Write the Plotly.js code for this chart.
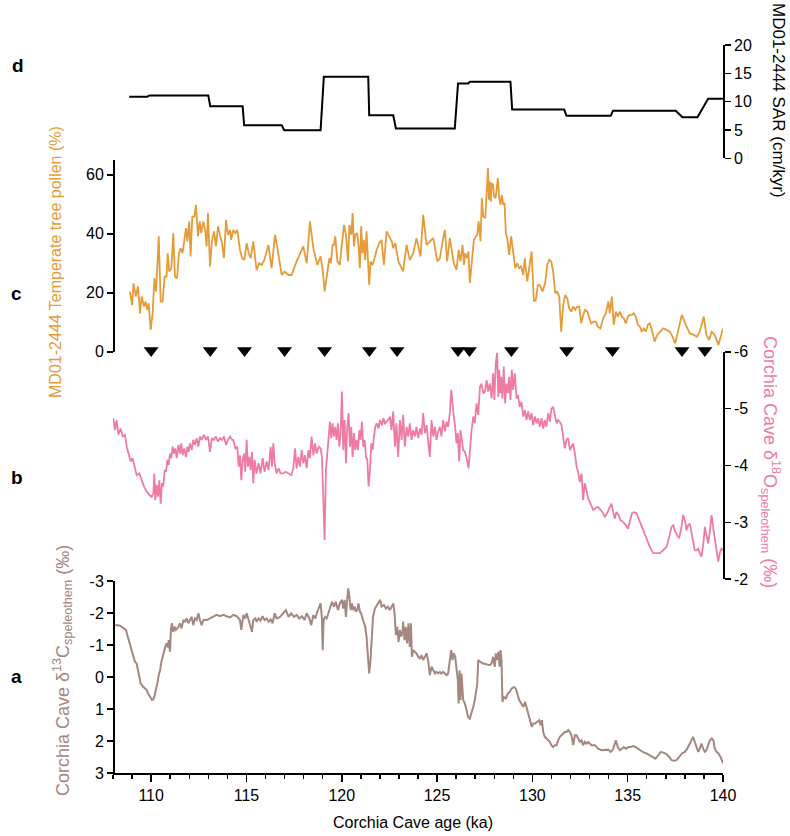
<!DOCTYPE html>
<html>
<head>
<meta charset="utf-8">
<script src="https://cdn.plot.ly/plotly-3.0.1.min.js"></script>
<style>html,body{margin:0;padding:0;background:#fff;}#chart{width:790px;height:836px;}</style>
</head>
<body>
<div id="chart"></div>
<script>
// ---- DATA ----
// Panel d: MD01-2444 sediment accumulation rate (cm/kyr) vs age (ka)
const sarData = [
 [108.85,10.85],[109.8,10.85],[109.9,11.1],[113.0,11.1],[113.1,9.2],[114.8,9.2],[114.88,5.85],
 [116.85,5.85],[116.98,4.95],[118.89,4.95],[119.06,14.4],[121.39,14.4],[121.44,7.6],[122.7,7.6],
 [122.84,5.25],[125.93,5.25],[126.1,13.2],[126.63,13.2],[126.72,13.5],[128.85,13.5],[128.94,8.6],
 [131.67,8.6],[131.79,7.5],[134.11,7.5],[134.23,8.4],[137.52,8.4],[137.87,7.25],[138.66,7.25],
 [139.22,10.5],[140.0,10.5]
];
// Panel c: MD01-2444 temperate tree pollen (%)
const pollenData = [
 [108.89,20.4],[109.0,15.8],[109.08,23.2],[109.2,18.7],[109.31,22.1],[109.42,13.0],[109.5,18.7],[109.63,15.3],
 [109.71,17.0],[109.8,14.2],[109.87,16.4],[109.98,7.4],[110.08,13.0],[110.17,24.9],[110.26,20.4],[110.4,39.1],
 [110.5,17.0],[110.6,17.0],[110.71,25.5],[110.81,25.5],[110.87,33.4],[110.95,27.2],[111.06,28.3],[111.16,40.2],
 [111.25,25.5],[111.36,24.9],[111.46,33.4],[111.55,35.1],[111.65,33.4],[111.76,38.5],[111.83,41.9],[111.9,37.4],
 [112.0,44.2],[112.07,32.3],[112.16,45.8],[112.27,45.8],[112.35,49.8],[112.46,39.1],[112.55,44.2],[112.63,40.2],
 [112.74,44.2],[112.84,40.8],[112.91,35.7],[112.98,47.0],[113.09,28.9],[113.19,37.4],[113.3,40.8],[113.4,35.7],
 [113.51,42.5],[113.61,39.6],[113.72,36.8],[113.82,31.7],[113.93,44.7],[114.03,39.6],[114.14,41.3],[114.2,37.9],
 [114.31,41.3],[114.42,40.2],[114.52,41.3],[114.66,34.5],[114.78,31.7],[114.89,31.1],[115.01,36.8],[115.12,33.4],
 [115.22,31.7],[115.36,37.4],[115.53,27.7],[115.67,30.0],[115.8,29.4],[115.94,31.1],[116.15,36.2],[116.32,28.3],
 [116.5,39.6],[116.64,34.5],[116.85,26.0],[116.99,27.2],[117.2,26.0],[117.37,26.0],[117.63,30.6],[117.9,34.5],
 [117.98,35.7],[118.16,30.0],[118.33,44.2],[118.51,35.1],[118.72,29.4],[118.89,32.3],[119.0,27.7],[119.1,20.4],
 [119.24,26.6],[119.35,31.7],[119.43,30.0],[119.52,36.2],[119.59,36.2],[119.66,39.1],[119.77,30.6],[119.9,29.4],
 [120.03,37.9],[120.12,43.0],[120.22,39.6],[120.33,30.6],[120.4,43.0],[120.5,39.6],[120.57,47.0],[120.64,35.7],
 [120.71,39.6],[120.81,40.2],[120.88,35.7],[120.95,28.3],[121.02,42.5],[121.09,33.4],[121.16,37.9],[121.23,31.1],
 [121.3,40.8],[121.37,32.8],[121.44,22.6],[121.51,30.6],[121.62,29.4],[121.72,31.7],[121.83,34.5],[121.97,36.8],
 [122.09,37.9],[122.21,29.4],[122.35,40.8],[122.49,39.1],[122.62,37.4],[122.7,35.1],[122.81,36.8],[122.97,30.6],
 [123.22,27.2],[123.4,36.2],[123.57,31.1],[123.75,33.4],[123.92,38.5],[124.13,32.3],[124.27,46.4],[124.45,36.2],
 [124.66,37.4],[124.8,38.5],[125.02,30.6],[125.15,31.7],[125.29,37.4],[125.41,41.3],[125.53,30.6],[125.67,38.5],
 [125.78,34.0],[125.88,30.0],[126.02,27.7],[126.13,34.5],[126.23,30.6],[126.34,36.2],[126.41,29.4],[126.48,33.4],
 [126.58,31.7],[126.65,34.0],[126.72,23.2],[126.83,31.7],[126.93,37.9],[127.04,39.1],[127.11,39.6],[127.18,44.2],
 [127.28,37.4],[127.35,52.1],[127.42,45.8],[127.53,45.3],[127.6,53.2],[127.67,62.3],[127.72,51.5],[127.77,57.7],
 [127.82,50.9],[127.87,57.2],[127.94,56.6],[127.99,52.6],[128.07,52.1],[128.12,54.3],[128.19,58.9],[128.26,52.1],
 [128.33,49.8],[128.4,53.2],[128.47,49.8],[128.54,50.4],[128.61,40.2],[128.68,38.5],[128.78,32.8],[128.89,39.1],
 [128.99,34.5],[129.1,28.3],[129.2,30.0],[129.31,28.3],[129.41,28.9],[129.52,26.0],[129.6,31.7],[129.73,23.8],
 [129.87,30.0],[129.96,34.0],[130.08,17.0],[130.18,17.5],[130.29,22.6],[130.39,22.6],[130.53,20.4],[130.67,23.2],
 [130.78,29.4],[130.88,31.1],[130.99,30.6],[131.09,27.2],[131.2,19.8],[131.3,20.4],[131.41,18.7],[131.51,6.8],
 [131.62,15.8],[131.72,19.2],[131.83,18.1],[131.93,14.7],[132.04,13.6],[132.14,15.3],[132.25,14.2],[132.35,15.3],
 [132.46,15.3],[132.56,9.6],[132.67,12.5],[132.77,14.2],[132.88,13.6],[132.98,11.9],[133.08,9.6],[133.22,10.2],
 [133.33,10.2],[133.43,8.5],[133.57,7.9],[133.71,11.3],[133.85,13.0],[133.99,17.0],[134.06,13.0],[134.17,18.7],
 [134.27,9.1],[134.38,13.6],[134.48,11.9],[134.59,13.6],[134.69,11.9],[134.8,11.3],[134.9,9.6],[135.01,11.9],
 [135.11,12.5],[135.22,12.5],[135.32,13.0],[135.43,11.9],[135.53,9.1],[135.64,8.5],[135.74,6.8],[135.85,7.9],
 [135.95,6.8],[136.06,9.1],[136.16,9.6],[136.27,7.4],[136.41,3.4],[136.55,5.7],[136.69,6.8],[136.86,7.9],
 [137.04,7.4],[137.21,6.8],[137.35,5.1],[137.49,2.8],[137.66,7.4],[137.84,12.5],[138.05,9.1],[138.26,6.2],
 [138.47,5.7],[138.64,5.1],[138.78,6.8],[138.99,11.9],[139.13,5.7],[139.27,4.0],[139.41,6.8],[139.57,5.7],
 [139.76,2.3],[139.9,5.1],[140.0,7.9]
];
// Tie-point markers (ages, ka)
const tieAges = [110.0,113.1,114.9,117.0,119.1,121.45,122.9,126.1,126.7,128.9,131.8,134.2,137.85,139.05];
// Panel b: Corchia Cave d18O speleothem (permil)
const d18OData = [
 [107.97,-4.80],[108.02,-4.83],[108.1,-4.62],[108.19,-4.80],[108.28,-4.54],[108.4,-4.65],[108.51,-4.51],[108.63,-4.54],
 [108.72,-4.33],[108.82,-4.21],[108.93,-4.07],[109.03,-4.13],[109.14,-3.98],[109.24,-3.83],[109.38,-3.86],[109.5,-3.74],
 [109.63,-3.63],[109.77,-3.54],[109.91,-3.48],[110.03,-3.45],[110.12,-3.51],[110.17,-3.86],[110.22,-3.39],[110.29,-3.66],
 [110.36,-3.45],[110.43,-3.74],[110.5,-3.33],[110.57,-3.69],[110.64,-3.63],[110.71,-3.92],[110.78,-3.89],[110.85,-4.10],
 [110.92,-4.01],[110.99,-4.21],[111.06,-4.13],[111.13,-4.33],[111.2,-4.21],[111.27,-4.30],[111.34,-4.13],[111.43,-4.36],
 [111.51,-4.21],[111.58,-4.39],[111.65,-4.18],[111.74,-4.30],[111.83,-4.15],[111.9,-4.33],[111.97,-4.24],[112.04,-4.39],
 [112.13,-4.27],[112.21,-4.45],[112.3,-4.36],[112.39,-4.48],[112.48,-4.33],[112.56,-4.51],[112.65,-4.45],[112.77,-4.54],
 [112.88,-4.45],[112.98,-4.51],[113.09,-4.24],[113.19,-4.48],[113.3,-4.45],[113.4,-4.51],[113.51,-4.42],[113.61,-4.48],
 [113.72,-4.45],[113.82,-4.51],[113.93,-4.36],[114.03,-4.45],[114.14,-4.51],[114.24,-4.45],[114.31,-4.45],[114.42,-4.30],
 [114.52,-4.33],[114.59,-3.98],[114.66,-4.18],[114.73,-3.74],[114.8,-4.10],[114.87,-4.21],[114.94,-3.89],[115.01,-4.45],
 [115.08,-3.98],[115.15,-4.15],[115.22,-3.92],[115.29,-4.24],[115.36,-3.69],[115.43,-4.10],[115.53,-3.86],[115.64,-4.04],
 [115.74,-3.86],[115.85,-4.13],[115.95,-3.89],[116.06,-4.07],[116.16,-3.92],[116.27,-4.33],[116.34,-3.98],[116.41,-4.39],
 [116.48,-4.04],[116.58,-3.86],[116.69,-3.95],[116.79,-3.86],[116.93,-3.86],[117.07,-3.89],[117.21,-3.86],[117.35,-3.83],
 [117.46,-3.95],[117.55,-4.30],[117.63,-3.95],[117.72,-4.15],[117.81,-3.98],[117.9,-4.27],[117.98,-4.04],[118.07,-4.18],
 [118.16,-3.95],[118.25,-4.27],[118.33,-4.13],[118.42,-4.51],[118.51,-4.18],[118.6,-4.39],[118.68,-4.21],[118.79,-4.33],
 [118.89,-4.30],[118.96,-4.15],[119.03,-3.45],[119.1,-2.69],[119.17,-3.92],[119.28,-4.39],[119.38,-4.77],[119.45,-4.48],
 [119.52,-4.74],[119.59,-4.51],[119.66,-4.68],[119.73,-4.45],[119.8,-4.74],[119.87,-4.33],[119.94,-4.57],[120.01,-5.30],
 [120.08,-4.27],[120.15,-4.80],[120.22,-4.04],[120.29,-4.68],[120.36,-4.92],[120.43,-4.33],[120.5,-4.68],[120.57,-4.15],
 [120.64,-4.57],[120.71,-4.27],[120.78,-4.45],[120.85,-4.27],[120.92,-4.62],[120.99,-4.45],[121.06,-4.77],[121.13,-4.33],
 [121.2,-4.45],[121.27,-4.15],[121.34,-4.10],[121.41,-3.63],[121.48,-3.92],[121.55,-4.39],[121.62,-4.27],[121.69,-4.51],
 [121.76,-4.68],[121.83,-4.74],[121.93,-4.65],[122.0,-4.80],[122.11,-4.71],[122.18,-4.83],[122.27,-4.74],[122.35,-4.77],
 [122.44,-4.80],[122.53,-4.86],[122.61,-4.62],[122.7,-4.95],[122.79,-4.33],[122.87,-4.74],[122.96,-4.15],[123.05,-4.80],
 [123.14,-4.45],[123.22,-4.89],[123.31,-4.33],[123.4,-4.68],[123.49,-4.51],[123.57,-4.74],[123.66,-4.45],[123.75,-4.62],
 [123.84,-4.51],[123.92,-4.68],[124.01,-4.48],[124.1,-4.65],[124.19,-4.54],[124.27,-4.92],[124.36,-4.57],[124.45,-4.71],
 [124.54,-4.33],[124.62,-4.15],[124.71,-4.80],[124.8,-4.51],[124.89,-4.68],[124.97,-4.45],[125.06,-4.60],[125.15,-4.68],
 [125.23,-4.51],[125.32,-4.80],[125.41,-4.60],[125.5,-4.77],[125.58,-4.68],[125.67,-4.92],[125.74,-5.33],[125.81,-5.03],
 [125.88,-4.86],[125.95,-4.68],[126.02,-4.39],[126.09,-4.57],[126.16,-4.07],[126.23,-4.62],[126.3,-4.45],[126.37,-4.27],
 [126.46,-4.24],[126.55,-4.13],[126.65,-3.95],[126.72,-4.27],[126.81,-4.62],[126.9,-4.86],[126.98,-4.74],[127.07,-5.09],
 [127.16,-4.89],[127.25,-5.38],[127.33,-5.44],[127.42,-5.27],[127.51,-5.30],[127.6,-5.50],[127.68,-5.30],[127.77,-5.44],
 [127.86,-5.18],[127.94,-5.62],[128.01,-5.15],[128.08,-5.80],[128.15,-5.98],[128.21,-5.21],[128.26,-5.68],[128.31,-5.27],
 [128.36,-5.56],[128.43,-5.18],[128.5,-5.74],[128.57,-5.09],[128.64,-5.44],[128.71,-5.27],[128.78,-5.56],[128.85,-5.15],
 [128.92,-5.68],[128.99,-5.33],[129.08,-5.62],[129.17,-5.18],[129.24,-5.24],[129.34,-5.03],[129.43,-5.12],[129.52,-4.86],
 [129.61,-4.97],[129.69,-4.80],[129.78,-4.95],[129.87,-4.80],[129.96,-4.92],[130.04,-4.71],[130.13,-4.86],[130.22,-4.74],
 [130.3,-4.83],[130.39,-4.68],[130.48,-4.83],[130.57,-4.65],[130.65,-4.80],[130.74,-4.68],[130.83,-4.92],[130.92,-4.77],
 [131.0,-5.00],[131.09,-5.03],[131.18,-4.86],[131.27,-4.74],[131.35,-4.80],[131.44,-4.77],[131.53,-4.71],[131.62,-4.45],
 [131.7,-4.30],[131.79,-4.45],[131.88,-4.48],[131.97,-4.27],[132.05,-4.33],[132.14,-4.39],[132.23,-4.21],[132.32,-3.98],
 [132.4,-3.89],[132.49,-3.71],[132.58,-3.86],[132.66,-3.39],[132.75,-3.69],[132.84,-3.54],[132.93,-3.42],[133.01,-3.36],
 [133.1,-3.27],[133.19,-3.22],[133.28,-3.24],[133.36,-3.27],[133.45,-3.27],[133.54,-3.24],[133.68,-3.18],[133.8,-3.10],
 [133.92,-3.16],[134.06,-3.27],[134.15,-3.33],[134.24,-3.18],[134.33,-3.07],[134.41,-3.18],[134.52,-3.13],[134.62,-3.04],
 [134.76,-3.01],[134.9,-2.95],[135.01,-2.89],[135.11,-3.01],[135.22,-3.16],[135.32,-3.18],[135.46,-3.16],[135.64,-3.01],
 [135.81,-2.86],[135.99,-2.72],[136.16,-2.57],[136.34,-2.46],[136.51,-2.46],[136.69,-2.46],[136.86,-2.51],[137.04,-2.57],
 [137.18,-2.75],[137.3,-2.92],[137.39,-2.95],[137.47,-2.86],[137.59,-2.78],[137.7,-2.72],[137.82,-2.92],[137.91,-3.13],
 [138.02,-3.01],[138.08,-2.86],[138.17,-2.95],[138.26,-2.98],[138.35,-2.81],[138.43,-2.63],[138.52,-2.51],[138.61,-2.51],
 [138.7,-2.54],[138.78,-2.46],[138.87,-2.40],[138.96,-2.60],[139.05,-2.92],[139.13,-2.78],[139.22,-2.63],[139.31,-2.84],
 [139.4,-3.13],[139.48,-2.92],[139.57,-2.69],[139.66,-2.46],[139.75,-2.31],[139.83,-2.46],[139.92,-2.54],[140.0,-2.51]
];
// Panel a: Corchia Cave d13C speleothem (permil)
const d13CData = [
 [107.98,-1.41],[108.05,-1.62],[108.16,-1.62],[108.28,-1.62],[108.4,-1.59],[108.54,-1.52],[108.68,-1.47],[108.75,-1.31],
 [108.82,-1.15],[108.89,-1.0],[108.98,-0.79],[109.07,-0.58],[109.15,-0.48],[109.24,-0.42],[109.31,-0.21],[109.38,-0.01],
 [109.45,0.2],[109.56,0.29],[109.66,0.36],[109.77,0.41],[109.84,0.52],[109.91,0.6],[109.98,0.67],[110.05,0.72],
 [110.12,0.7],[110.19,0.57],[110.26,0.36],[110.33,0.2],[110.4,-0.06],[110.47,-0.21],[110.54,-0.48],[110.6,-0.63],
 [110.67,-0.84],[110.74,-0.94],[110.81,-1.05],[110.88,-0.92],[110.92,-1.15],[110.99,-0.79],[111.04,-1.47],[111.09,-1.68],
 [111.16,-1.41],[111.23,-1.57],[111.3,-1.47],[111.37,-1.52],[111.44,-1.57],[111.51,-1.68],[111.6,-1.52],[111.69,-1.78],
 [111.78,-1.73],[111.86,-1.83],[111.95,-1.68],[112.04,-1.78],[112.13,-1.88],[112.21,-1.62],[112.3,-1.83],[112.39,-1.78],
 [112.48,-1.99],[112.56,-1.78],[112.65,-1.62],[112.74,-1.78],[112.91,-1.78],[113.09,-1.83],[113.26,-1.88],[113.44,-1.94],
 [113.61,-1.90],[113.79,-1.94],[113.96,-1.90],[114.14,-1.86],[114.31,-1.94],[114.49,-1.90],[114.66,-1.78],[114.73,-1.47],
 [114.84,-1.94],[114.94,-1.83],[115.01,-1.99],[115.12,-1.80],[115.22,-1.57],[115.29,-1.41],[115.36,-1.78],[115.47,-1.83],
 [115.53,-1.73],[115.64,-1.83],[115.74,-1.76],[115.85,-1.90],[115.95,-1.78],[116.06,-1.83],[116.16,-1.73],[116.27,-1.80],
 [116.37,-1.68],[116.48,-1.99],[116.58,-1.83],[116.76,-1.88],[116.93,-1.99],[117.07,-2.09],[117.21,-1.88],[117.35,-1.99],
 [117.49,-1.88],[117.63,-1.94],[117.77,-1.83],[117.91,-1.90],[118.05,-1.78],[118.16,-1.99],[118.3,-1.83],[118.4,-1.62],
 [118.51,-1.94],[118.61,-1.83],[118.72,-2.04],[118.82,-2.2],[118.89,-2.3],[118.96,-1.83],[119.0,-0.84],[119.05,-1.78],
 [119.12,-1.88],[119.21,-1.83],[119.29,-1.99],[119.38,-2.20],[119.49,-2.35],[119.59,-2.20],[119.69,-2.35],[119.8,-2.09],
 [119.9,-2.3],[120.01,-2.41],[120.08,-2.14],[120.15,-2.41],[120.22,-1.88],[120.29,-2.46],[120.34,-2.77],[120.4,-2.51],
 [120.47,-2.09],[120.54,-2.3],[120.6,-2.09],[120.67,-2.2],[120.74,-2.04],[120.81,-2.09],[120.88,-2.3],[120.95,-2.04],
 [121.02,-1.99],[121.09,-1.83],[121.16,-1.68],[121.23,-1.57],[121.3,-1.26],[121.37,-0.63],[121.44,-0.11],[121.51,-0.53],
 [121.57,-1.36],[121.64,-1.88],[121.74,-2.14],[121.85,-2.25],[121.95,-2.35],[122.02,-2.41],[122.09,-2.20],[122.21,-2.25],
 [122.32,-2.14],[122.42,-2.20],[122.53,-2.09],[122.61,-2.2],[122.7,-2.3],[122.77,-1.99],[122.84,-1.31],[122.91,-1.57],
 [122.98,-1.10],[123.05,-1.47],[123.12,-1.26],[123.19,-1.41],[123.22,-1.73],[123.29,-1.15],[123.36,-1.57],[123.43,-1.05],
 [123.5,-1.68],[123.57,-0.94],[123.63,-1.68],[123.68,-0.63],[123.75,-0.84],[123.84,-0.79],[123.92,-0.74],[124.01,-0.63],
 [124.1,-0.58],[124.19,-0.68],[124.27,-0.53],[124.36,-0.63],[124.45,-0.74],[124.54,-0.48],[124.62,-0.06],[124.71,-0.32],
 [124.8,-0.21],[124.89,-0.11],[124.97,-0.16],[125.06,-0.11],[125.15,-0.16],[125.23,-0.11],[125.32,-0.16],[125.41,-0.11],
 [125.5,-0.06],[125.58,-0.11],[125.67,-0.53],[125.74,-0.84],[125.81,-0.53],[125.88,-0.74],[125.95,-0.63],[126.02,-0.32],
 [126.09,0.1],[126.13,0.83],[126.18,-0.21],[126.23,0.72],[126.28,-0.11],[126.37,0.72],[126.46,0.83],[126.55,1.04],
 [126.63,1.25],[126.72,1.30],[126.81,1.14],[126.9,0.93],[126.98,0.72],[127.07,0.41],[127.11,0.20],[127.16,-0.53],
 [127.25,-0.48],[127.42,-0.42],[127.6,-0.40],[127.77,-0.37],[127.86,-0.42],[127.94,-0.63],[128.03,-0.32],[128.08,-0.74],
 [128.15,-0.53],[128.22,-0.79],[128.28,-0.32],[128.33,-0.84],[128.38,-0.53],[128.43,0.78],[128.5,0.62],[128.61,0.67],
 [128.71,0.52],[128.82,0.46],[128.92,0.36],[129.03,0.31],[129.13,0.36],[129.2,0.52],[129.31,0.72],[129.41,0.83],
 [129.52,0.93],[129.62,0.78],[129.69,0.93],[129.76,1.14],[129.83,1.25],[129.9,1.45],[129.97,1.56],[130.04,1.45],
 [130.15,1.45],[130.25,1.40],[130.36,1.35],[130.43,1.51],[130.5,1.35],[130.57,1.72],[130.65,1.87],[130.74,1.92],
 [130.83,1.98],[130.92,2.03],[131.0,2.13],[131.09,2.19],[131.18,2.13],[131.27,2.13],[131.35,1.98],[131.44,1.87],
 [131.53,1.82],[131.62,1.77],[131.7,1.72],[131.79,1.72],[131.88,1.66],[131.97,1.72],[132.05,1.82],[132.14,2.13],
 [132.23,1.82],[132.32,1.82],[132.4,1.92],[132.49,2.03],[132.58,1.98],[132.66,2.13],[132.75,2.03],[132.84,2.08],
 [132.93,2.03],[133.01,2.08],[133.1,2.13],[133.28,2.13],[133.45,2.24],[133.63,2.29],[133.8,2.29],[133.98,2.27],
 [134.1,2.34],[134.2,2.29],[134.27,2.19],[134.38,1.98],[134.48,2.19],[134.59,2.29],[134.69,2.24],[134.8,2.19],
 [134.9,2.24],[135.03,2.19],[135.15,2.19],[135.29,2.16],[135.43,2.19],[135.55,2.24],[135.67,2.31],[135.81,2.35],
 [135.99,2.39],[136.16,2.45],[136.34,2.50],[136.46,2.55],[136.6,2.45],[136.74,2.34],[136.9,2.37],[137.04,2.41],
 [137.18,2.50],[137.3,2.60],[137.42,2.62],[137.56,2.60],[137.7,2.50],[137.84,2.39],[138.0,2.34],[138.12,2.24],
 [138.26,2.08],[138.36,1.98],[138.43,1.87],[138.52,2.03],[138.61,2.19],[138.7,2.34],[138.78,2.24],[138.87,2.08],
 [138.96,2.24],[139.05,2.34],[139.13,2.29],[139.22,2.13],[139.31,1.98],[139.41,1.92],[139.5,1.98],[139.57,2.24],
 [139.66,2.34],[139.76,2.39],[139.87,2.50],[139.97,2.65],[140.04,2.71]
];
// Tick labels
const xTicks = [110,115,120,125,130,135,140];
const sarTicks = [0,5,10,15,20];
const pollenTicks = [0,20,40,60];
const d18OTicks = [-6,-5,-4,-3,-2];
const d13CTicks = [-3,-2,-1,0,1,2,3];

// ---- STYLE / LAYOUT ----
const W=790,H=836,L=113,R=723,T=45,B=773;
const pxX = x => (x-L)/(R-L);
const pxY = y => (B-y)/(B-T);
const ORANGE='#E59B3A', PINK='#EE7CA1', BROWN='#A4877F', BLACK='#000';
const FONT='Liberation Sans, Arial, Helvetica, sans-serif';
const lbl = v => String(v).replace('−','-');

const xs = d => d.map(p=>p[0]);
const ys = d => d.map(p=>p[1]);

const traces = [
 {x:xs(sarData), y:ys(sarData), xaxis:'x', yaxis:'y4', mode:'lines', line:{color:BLACK,width:2}, hoverinfo:'skip'},
 {x:xs(pollenData), y:ys(pollenData), xaxis:'x', yaxis:'y3', mode:'lines', line:{color:ORANGE,width:1.8}, hoverinfo:'skip'},
 {x:tieAges, y:tieAges.map(()=>0.4), xaxis:'x', yaxis:'y3', mode:'markers', cliponaxis:false,
  marker:{symbol:'triangle-down', size:13, color:BLACK}, hoverinfo:'skip'},
 {x:xs(d18OData), y:ys(d18OData), xaxis:'x', yaxis:'y2', mode:'lines', line:{color:PINK,width:1.8}, hoverinfo:'skip'},
 {x:xs(d13CData), y:ys(d13CData), xaxis:'x', yaxis:'y', mode:'lines', line:{color:BROWN,width:2}, hoverinfo:'skip'}
];

const axBase = {showgrid:false, zeroline:false, showline:true, linecolor:BLACK, linewidth:1.8,
  ticks:'outside', ticklen:6, tickwidth:1.6, tickcolor:BLACK, tickfont:{family:FONT,size:16,color:BLACK}};

function ann(text, x, y, size, color, angle){
  return {text:text, x:pxX(x), y:pxY(y), xref:'paper', yref:'paper', xanchor:'center', yanchor:'middle',
    showarrow:false, textangle:angle||0, font:{family:FONT, size:size, color:color}};
}

const layout = {
 width:W, height:H, margin:{l:L, r:W-R, t:T, b:H-B}, showlegend:false,
 paper_bgcolor:'#fff', plot_bgcolor:'rgba(0,0,0,0)',
 font:{family:FONT, color:BLACK},
 xaxis: Object.assign({}, axBase, {domain:[0,1], range:[108,140], anchor:'y',
   tickvals:xTicks, ticktext:xTicks.map(String), ticklen:7,
   minor:{dtick:1, tick0:108, ticks:'outside', ticklen:4, tickwidth:1.4, tickcolor:BLACK, showgrid:false}}),
 yaxis: Object.assign({}, axBase, {domain:[0, pxY(581)], range:[3,-3], anchor:'free', position:0, side:'left',
   tickvals:d13CTicks, ticktext:d13CTicks.map(lbl)}),
 yaxis2: Object.assign({}, axBase, {domain:[pxY(579.3), pxY(351.7)], range:[-2,-6], anchor:'free', position:1, side:'right',
   tickvals:d18OTicks, ticktext:d18OTicks.map(lbl)}),
 yaxis3: Object.assign({}, axBase, {domain:[pxY(351.7), pxY(160)], range:[0,65], anchor:'free', position:0, side:'left',
   tickvals:pollenTicks, ticktext:pollenTicks.map(String)}),
 yaxis4: Object.assign({}, axBase, {domain:[pxY(158.3), 1], range:[0,20], anchor:'free', position:1, side:'right',
   tickvals:sarTicks, ticktext:sarTicks.map(String)}),
 annotations: [
  ann('<b>d</b>', 18, 65, 19, BLACK),
  ann('<b>c</b>', 17, 293, 19, BLACK),
  ann('<b>b</b>', 17, 477, 19, BLACK),
  ann('<b>a</b>', 16, 676, 19, BLACK),
  ann('MD01-2444 SAR (cm/kyr)', 778, 100, 17, BLACK, 90),
  ann('MD01-2444 Temperate tree pollen (%)', 55, 262, 16, ORANGE, -90),
  ann('Corchia Cave δ<sup>18</sup>O<sub>speleothem</sub> (‰)', 771, 462, 18, PINK, 90),
  ann('Corchia Cave δ<sup>13</sup>C<sub>speleothem</sub> (‰)', 62, 671, 18, BROWN, -90),
  ann('Corchia Cave age (ka)', 413, 822, 16, BLACK)
 ]
};

Plotly.newPlot('chart', traces, layout, {displayModeBar:false, staticPlot:true});
</script>
</body>
</html>
